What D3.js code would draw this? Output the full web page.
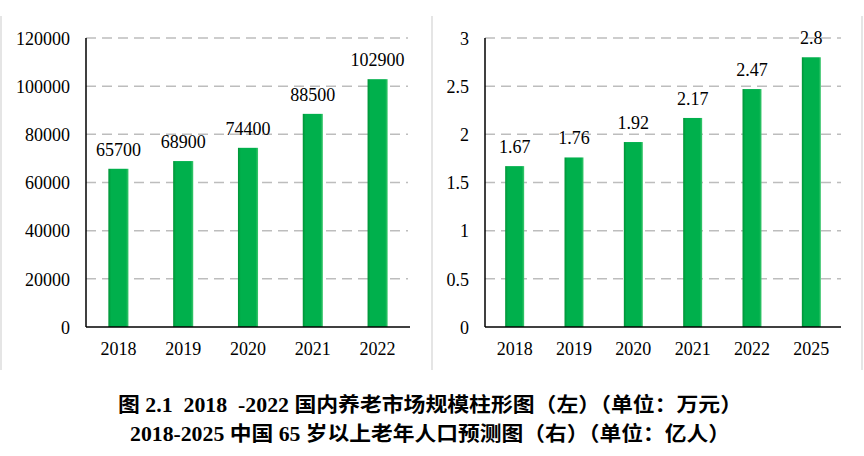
<!DOCTYPE html>
<html>
<head>
<meta charset="utf-8">
<script src="https://cdn.jsdelivr.net/npm/d3@7"></script>
<style>
  body { margin: 0; background: #fff; }
  svg { display: block; }
  .tick text { font-family: "Liberation Serif", "Times New Roman", serif; font-size: 18px; fill: #000; }
</style>
</head>
<body>
<div id="chart"></div>
<script>
/* two bar charts side by side + caption underneath */

// left: market size (万元)
const leftYears = ["2018", "2019", "2020", "2021", "2022"];
const leftValues = [65700, 68900, 74400, 88500, 102900];
const leftTicks = [0, 20000, 40000, 60000, 80000, 100000, 120000];

// right: population 65+ (亿人)
const rightYears = ["2018", "2019", "2020", "2021", "2022", "2025"];
const rightValues = [1.67, 1.76, 1.92, 2.17, 2.47, 2.8];
const rightTicks = [0, 0.5, 1, 1.5, 2, 2.5, 3];

const captionLines = [
    "图 2.1  2018  -2022 国内养老市场规模柱形图（左）（单位：万元）",
    "2018-2025 中国 65 岁以上老年人口预测图（右）（单位：亿人）"
];
const captionWidths = [624, 600];

const width = 864, height = 456;

let svg = d3.select("#chart")
    .append("svg")
    .attr("width", width)
    .attr("height", height);

// bar gradient, darker edges
let grad = svg.append("defs").append("linearGradient")
    .attr("id", "barGrad")
    .attr("x1", "0%").attr("x2", "100%").attr("y1", "0%").attr("y2", "0%");
grad.append("stop").attr("offset", "0%").attr("stop-color", "#009336");
grad.append("stop").attr("offset", "14%").attr("stop-color", "#00b04c");
grad.append("stop").attr("offset", "88%").attr("stop-color", "#00b04c");
grad.append("stop").attr("offset", "100%").attr("stop-color", "#3fc86f");

// panel separators
[1, 432, 862].forEach(px => {
    svg.append("line")
        .attr("x1", px).attr("x2", px)
        .attr("y1", 16).attr("y2", 370)
        .attr("stroke", "#d4d4d4")
        .attr("stroke-width", 1.2);
});

function drawPanel(cats, vals, ticks, box) {
    let g = svg.append("g");

    let x = d3.scaleBand()
        .domain(cats)
        .range([box.left, box.right])
        .paddingInner(box.pad)
        .paddingOuter(box.pad / 2);

    let y = d3.scaleLinear()
        .domain([0, d3.max(ticks)])
        .range([box.bottom, box.top]);

    // dashed grid
    g.append("g")
        .selectAll("line")
        .data(ticks.filter(t => t > 0))
        .join("line")
        .attr("x1", box.left)
        .attr("x2", box.gridRight)
        .attr("y1", d => y(d))
        .attr("y2", d => y(d))
        .attr("stroke", "#bdbdbd")
        .attr("stroke-width", 1.5)
        .attr("stroke-dasharray", "10,6");

    // y axis labels
    let yAxis = g.append("g")
        .attr("transform", `translate(${box.left},0)`)
        .call(d3.axisLeft(y).tickValues(ticks).tickSize(0).tickPadding(16).tickFormat(d => d));
    yAxis.select(".domain").remove();
    yAxis.selectAll(".tick text").attr("dy", "0.35em");

    // bars
    g.append("g")
        .selectAll("rect")
        .data(vals)
        .join("rect")
        .attr("x", (d, i) => x(cats[i]))
        .attr("width", x.bandwidth())
        .attr("y", d => y(d))
        .attr("height", d => y(0) - y(d))
        .attr("fill", "url(#barGrad)");

    // value labels
    g.append("g")
        .selectAll("text")
        .data(vals)
        .join("text")
        .attr("x", (d, i) => x(cats[i]) + x.bandwidth() / 2)
        .attr("y", d => y(d) - 13)
        .attr("text-anchor", "middle")
        .style("font-family", '"Liberation Serif", "Times New Roman", serif')
        .style("font-size", "18px")
        .text(d => d);

    // x axis
    let xAxis = g.append("g")
        .attr("transform", `translate(0,${box.bottom})`)
        .call(d3.axisBottom(x).tickSize(0).tickPadding(15));
    xAxis.select(".domain").remove();

    // axis lines
    g.append("line")
        .attr("x1", box.left).attr("x2", box.left)
        .attr("y1", box.top).attr("y2", box.bottom)
        .attr("stroke", "#000").attr("stroke-width", 1.5);
    g.append("line")
        .attr("x1", box.left).attr("x2", box.right)
        .attr("y1", box.bottom).attr("y2", box.bottom)
        .attr("stroke", "#000").attr("stroke-width", 1.5);
}

drawPanel(leftYears, leftValues, leftTicks,
    { left: 86, right: 410, gridRight: 408, top: 38, bottom: 327, pad: 0.69 });
drawPanel(rightYears, rightValues, rightTicks,
    { left: 485, right: 841, gridRight: 841, top: 38, bottom: 327, pad: 0.68 });

// caption
svg.append("g")
    .selectAll("text")
    .data(captionLines)
    .join("text")
    .attr("x", 430)
    .attr("y", (d, i) => 412 + i * 29)
    .attr("text-anchor", "middle")
    .attr("textLength", (d, i) => captionWidths[i])
    .attr("lengthAdjust", "spacingAndGlyphs")
    .style("white-space", "pre")
    .style("font-family", '"Liberation Serif", "Noto Sans CJK SC", serif')
    .style("font-weight", "bold")
    .style("font-size", "20px")
    .text(d => d);
</script>
</body>
</html>
